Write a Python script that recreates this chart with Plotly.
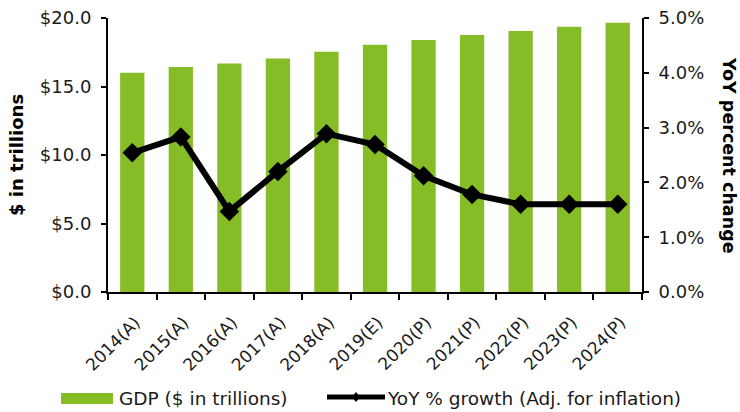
import plotly.graph_objects as go

categories = ["2014(A)", "2015(A)", "2016(A)", "2017(A)", "2018(A)", "2019(E)",
              "2020(P)", "2021(P)", "2022(P)", "2023(P)", "2024(P)"]
gdp = [16.0, 16.43, 16.68, 17.04, 17.53, 18.04, 18.4, 18.76, 19.05, 19.37, 19.66]
growth = [2.54, 2.83, 1.47, 2.2, 2.89, 2.69, 2.12, 1.78, 1.6, 1.6, 1.6]

left_ticks = [0, 5, 10, 15, 20]
left_labels = ["$0.0", "$5.0", "$10.0", "$15.0", "$20.0"]
right_ticks = [0, 1, 2, 3, 4, 5]
right_labels = ["0.0%", "1.0%", "2.0%", "3.0%", "4.0%", "5.0%"]
legend_names = ["GDP ($ in trillions)", "YoY % growth (Adj. for inflation)"]

GREEN = "#86BC25"
FONT = "DejaVu Sans, Verdana, sans-serif"
TXT = "#1a1a1a"

# plot area in pixels
L, R, T, B = 108, 642, 18, 292
W, H = R - L, B - T


def px(x):
    return (x - L) / W


def py(y):
    return (B - y) / H


fig = go.Figure()
fig.add_trace(go.Bar(x=categories, y=gdp, name=legend_names[0],
                     marker=dict(color=GREEN, line=dict(width=0)), yaxis="y",
                     showlegend=False))
fig.add_trace(go.Scatter(x=categories, y=growth, name=legend_names[1],
                         mode="lines+markers", yaxis="y2",
                         line=dict(color="black", width=6),
                         marker=dict(symbol="diamond", size=15, color="black"),
                         showlegend=False))

axis_common = dict(showline=True, linecolor="black", linewidth=2,
                   ticks="outside", tickwidth=2, tickcolor="black",
                   showgrid=False, zeroline=False, automargin=False)

shapes = [
    # legend: bar swatch
    dict(type="rect", xref="paper", yref="paper", x0=px(61), x1=px(113),
         y0=py(404), y1=py(393), fillcolor=GREEN, line=dict(width=0)),
    # legend: line swatch
    dict(type="line", xref="paper", yref="paper", x0=px(327), x1=px(385),
         y0=py(397), y1=py(397), line=dict(color="black", width=5)),
    dict(type="path", xref="paper", yref="paper",
         path=f"M {px(352)},{py(397)} L {px(356)},{py(392)} L {px(360)},{py(397)} L {px(356)},{py(402)} Z",
         fillcolor="black", line=dict(width=0)),
]

annotations = [
    dict(text="<b>$ in trillions</b>", xref="paper", yref="paper",
         x=px(16), y=0.5, xanchor="center", yanchor="middle", textangle=-90,
         showarrow=False, font=dict(size=18, color="black", family=FONT)),
    dict(text="<b>YoY percent change</b>", xref="paper", yref="paper",
         x=px(729), y=0.5, xanchor="center", yanchor="middle", textangle=90,
         showarrow=False, font=dict(size=17.5, color="black", family=FONT)),
    dict(text=legend_names[0], xref="paper", yref="paper", x=px(117), y=py(398),
         xanchor="left", yanchor="middle", showarrow=False,
         font=dict(size=18.5, color=TXT, family=FONT)),
    dict(text=legend_names[1], xref="paper", yref="paper", x=px(385), y=py(398),
         xanchor="left", yanchor="middle", showarrow=False,
         font=dict(size=18.5, color=TXT, family=FONT)),
]

fig.update_layout(
    width=740, height=412,
    margin=dict(l=L, r=740 - R, t=T, b=412 - B),
    paper_bgcolor="white", plot_bgcolor="white",
    font=dict(family=FONT, size=18, color=TXT),
    bargap=0.5,
    showlegend=False,
    xaxis=dict(type="category", range=[-0.5, len(categories) - 0.5],
               tickson="boundaries", ticklen=6,
               tickangle=-45, tickfont=dict(size=17), ticklabelstandoff=12,
               ticklabelshift=3, **axis_common),
    yaxis=dict(range=[0, 20], tickvals=left_ticks, ticktext=left_labels,
               ticklen=5, ticklabelstandoff=6, **axis_common),
    yaxis2=dict(range=[0, 5], tickvals=right_ticks, ticktext=right_labels,
                overlaying="y", side="right", ticklen=5, ticklabelstandoff=6,
                **axis_common),
    shapes=shapes,
    annotations=annotations,
)

fig.write_html("out.html")
